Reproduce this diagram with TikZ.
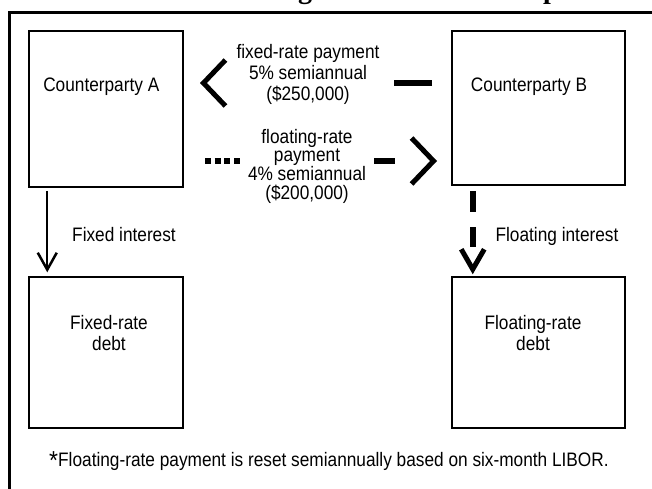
\documentclass[tikz,border=0pt]{standalone}
\usepackage{fontspec}
\setmainfont[FakeStretch=0.885]{Liberation Sans}
\newfontfamily\titlefont{Liberation Serif}
\usetikzlibrary{arrows.meta}

\begin{document}
\begin{tikzpicture}[x=1pt,y=-1pt,
  box/.style={draw,line width=1.5pt,inner sep=0pt},
  txt/.style={inner sep=0pt,anchor=base,font=\fontsize{19.5}{20.7}\selectfont},
  bigbarb/.style={-{Straight Barb[length=22pt,width=46pt,line width=5pt]}},
  smallbarb/.style={-{Straight Barb[length=17pt,width=19pt,line width=2.5pt]}}]
\useasboundingbox (0,0) rectangle (652,489);
% cut-off title and frame
\begin{scope}
\clip (0,0) rectangle (652,8);
\node[inner sep=0pt,anchor=base] (Titleg) at (305,-1) {\titlefont\bfseries\fontsize{28}{28}\selectfont g};
\node[inner sep=0pt,anchor=base] (Titlep) at (551,-1) {\titlefont\bfseries\fontsize{28}{28}\selectfont p};
\end{scope}
\draw[line width=2.5pt] (9.5,495) -- (9.5,12.5) -- (660,12.5);
% boxes
\node[box,minimum width=154pt,minimum height=156pt] (cpA) at (106,109) {};
\node[box,minimum width=173pt,minimum height=154pt] (cpB) at (538.5,108) {};
\node[box,minimum width=154pt,minimum height=151pt] (debtA) at (106,352.5) {};
\node[box,minimum width=173pt,minimum height=151pt] (debtB) at (538.5,352.5) {};
\node[txt] (cpALabel) at (101.3,91.7) {Counterparty A};
\node[txt] (cpBLabel) at (529,91.7) {Counterparty B};
\node[txt,align=center] (debtALabel) at (109,350) {Fixed-rate\\debt};
\node[txt,align=center] (debtBLabel) at (533,350) {Floating-rate\\debt};
% swap payments
\node[txt,align=center,font=\fontsize{19.5}{21}\selectfont] (fixPay) at (308,100.7) {fixed-rate payment\\5\% semiannual\\(\$250,000)};
\node[txt,align=center,font=\fontsize{19.5}{18.7}\selectfont] (floatPay) at (307,199.3) {floating-rate\\payment\\4\% semiannual\\(\$200,000)};
\draw[bigbarb,line width=6pt,dash pattern=on 38.5pt off 300pt,dash phase=319.25pt,shorten >=16.25pt] ([yshift=25pt]cpB.west) -- ([yshift=26pt]cpA.east);
\draw[bigbarb,line width=6pt,dash pattern=on 6pt off 3.7pt on 6pt off 3.7pt on 6pt off 3.7pt on 6pt off 134.2pt on 20.7pt off 100pt,dash phase=268.75pt,shorten >=14.25pt] ([yshift=-52pt]cpA.east) -- ([yshift=-53pt]cpB.west);
% interest
\draw[smallbarb,line width=2.2pt,shorten <=3pt,shorten >=4pt] ([xshift=19pt]cpA.south west) -- ([xshift=19pt]debtA.north west);
\draw[-{Straight Barb[length=20pt,width=23pt,line width=5pt]},line width=6pt,dash pattern=on 21pt off 15pt on 20pt off 80pt,shorten <=5.7pt,shorten >=2pt] ([xshift=21.5pt]cpB.south west) -- ([xshift=21.5pt]debtB.north west);
\node[txt] (fixInt) at (124,241.7) {Fixed interest};
\node[txt] (floatInt) at (557,241.7) {Floating interest};
% footnote
\node[txt] (Note) at (329,466) {\raisebox{-3pt}{\fontsize{26}{26}\selectfont *}Floating-rate payment is reset semiannually based on six-month LIBOR.};
\end{tikzpicture}
\end{document}
